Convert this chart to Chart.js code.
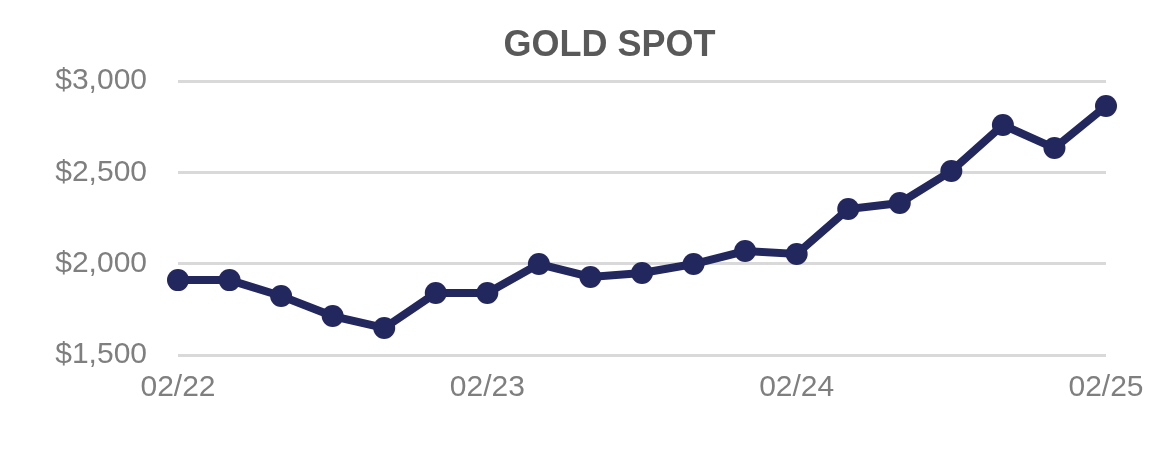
<!DOCTYPE html>
<html>
<head>
<meta charset="utf-8">
<script src="https://cdn.jsdelivr.net/npm/chart.js@4"></script>
<style>
    html, body { margin: 0; padding: 0; background: #fff; }
    #wrap { width: 1175px; height: 458px; }
</style>
</head>
<body>
<div id="wrap"><canvas id="goldChart" width="1175" height="458"></canvas></div>
<script>
/* ============================================================
   Data (every two months)
============================================================ */
const months = [
    "02/22", "04/22", "06/22", "08/22", "10/22", "12/22",
    "02/23", "04/23", "06/23", "08/23", "10/23", "12/23",
    "02/24", "04/24", "06/24", "08/24", "10/24", "12/24",
    "02/25"
];
const goldPrice = [
    1910, 1910, 1823, 1713, 1648, 1839,
    1839, 1998, 1927, 1949, 1998, 2069,
    2053, 2299, 2332, 2507, 2759, 2633,
    2863
];
const yTicks = [1500, 2000, 2500, 3000];
const chartTitle = "GOLD SPOT";

/* ============================================================
   Title plugin (the reference title sits a bit right of centre)
============================================================ */
const fontFamily = "Liberation Sans, Arial, sans-serif";

const offsetTitle = {
    id: "offsetTitle",
    afterDraw(chart) {
        const c = chart.ctx;
        c.save();
        c.font = "bold 36px " + fontFamily;
        c.fillStyle = "#595959";
        c.textAlign = "center";
        c.textBaseline = "middle";
        c.fillText(chartTitle, chart.width / 2 + 22, 46);
        c.restore();
    }
};

/* ============================================================
   Chart
============================================================ */
const ctx = document.getElementById("goldChart").getContext("2d");

new Chart(ctx, {
    type: "line",
    data: {
        labels: months,
        datasets: [{
            label: "Gold Spot",
            data: goldPrice,
            borderColor: "#22275d",
            backgroundColor: "#22275d",
            borderWidth: 8,
            pointRadius: 11,
            pointBackgroundColor: "#22275d",
            pointBorderWidth: 0,
            tension: 0
        }]
    },
    options: {
        responsive: false,
        animation: false,
        layout: { padding: { left: 0, right: 69, top: 81, bottom: 37 } },
        plugins: {
            legend: { display: false },
            tooltip: { enabled: false },
            title: { display: false }
        },
        scales: {
            x: {
                offset: false,
                grid: { display: false, drawTicks: false },
                border: { display: false },
                ticks: {
                    autoSkip: false,
                    maxRotation: 0,
                    padding: 15,
                    color: "#7f7f7f",
                    font: { family: fontFamily, size: 30 },
                    callback: function (value, index) {
                        const lab = months[index];
                        return lab.startsWith("02/") ? lab : null;
                    }
                }
            },
            y: {
                min: yTicks[0],
                max: yTicks[yTicks.length - 1],
                afterBuildTicks: axis => {
                    axis.ticks = yTicks.map(v => ({ value: v }));
                },
                afterFit: axis => { axis.width = 178; },
                grid: { color: "#d9d9d9", lineWidth: 3, drawTicks: false },
                border: { display: false },
                ticks: {
                    padding: 31,
                    color: "#7f7f7f",
                    font: { family: fontFamily, size: 30 },
                    callback: v => "$" + v.toLocaleString("en-US")
                }
            }
        }
    },
    plugins: [offsetTitle]
});
</script>
</body>
</html>
